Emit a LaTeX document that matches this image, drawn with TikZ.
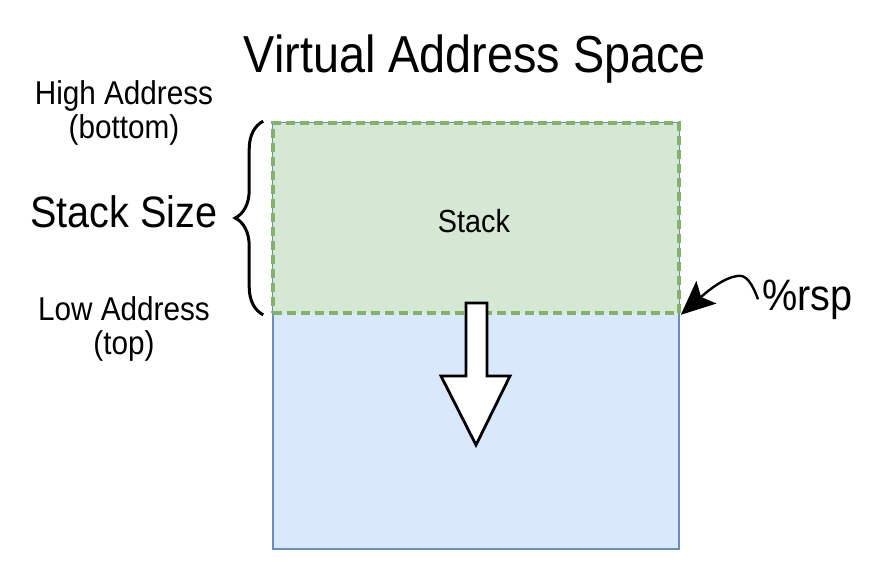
\documentclass[tikz,border=0pt]{standalone}
\usepackage{fontspec}
\setmainfont{Liberation Sans}[FakeStretch=0.9]
\usetikzlibrary{arrows.meta, decorations.pathreplacing}
\usetikzlibrary{positioning}
\definecolor{memfill}{HTML}{DAE8FC}
\definecolor{memline}{HTML}{6C8EBF}
\definecolor{stackfill}{HTML}{D5E8D4}
\definecolor{stackline}{HTML}{82B366}

\begin{document}
\begin{tikzpicture}[x=0.5pt, y=-0.5pt, every node/.style={font=\fontsize{16.5}{17}\selectfont, inner sep=0pt}]
	\useasboundingbox (0,0) rectangle (881,561);
	\node[draw=memline, fill=memfill, line width=1.1pt, minimum width=203pt, minimum height=213pt] (mem) at (476,336) {};
	\node[draw=stackline, fill=stackfill, line width=1.8pt, dash pattern=on 4.5pt off 2.5pt, minimum width=203pt, minimum height=95pt] (stack) at (476,218) {};
	\node[anchor=base, font=\fontsize{16}{19}\selectfont] (stacklbl) at (474,232) {Stack};
	
	\node[anchor=base, font=\fontsize{26}{30}\selectfont] (title) at (475,73) {Virtual Address Space};
	
	\node[align=center] (high) at (124,113) {High Address\\(bottom)};
	\node[anchor=base, font=\fontsize{22}{26}\selectfont] (size) at (124,227) {Stack Size};
	\node[align=center] (low) at (124,329) {Low Address\\(top)};
	
	\draw[decorate, decoration={brace, amplitude=14pt}, line width=1.5pt] ([xshift=-4pt]stack.south west) -- ([xshift=-4pt]stack.north west);
	
	\draw[line width=1.4pt, fill=white] (466,303) -- (487,303) -- (487,376) -- (510,376) -- (476,445) -- (441,376) -- (466,376) -- cycle;
	
	\node[anchor=base west, font=\fontsize{22}{26}\selectfont] (rsp) at (762,310) {\%rsp};
	\draw[-{Stealth[length=17pt, width=15pt, inset=3.5pt]}, line width=1.2pt] ([xshift=-2pt]rsp.west) .. controls (752,283) and (746,274) .. (737,276) .. controls (724,278) and (710,289) .. (stack.south east);
\end{tikzpicture}
\end{document}
